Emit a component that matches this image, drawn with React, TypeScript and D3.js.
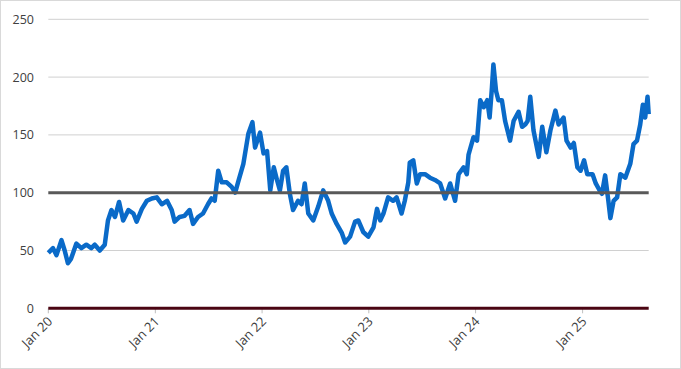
import React from "react";
import * as d3 from "d3";

const dates: string[] = [
  "2020-01-01","2020-01-17","2020-01-29","2020-02-15","2020-02-26","2020-03-08","2020-03-19","2020-04-06","2020-04-23","2020-05-10",
  "2020-05-27","2020-06-08","2020-06-25","2020-07-12","2020-07-23","2020-08-04","2020-08-16","2020-08-30","2020-09-13","2020-10-01",
  "2020-10-18","2020-10-29","2020-11-16","2020-12-03","2020-12-20","2021-01-06","2021-01-23","2021-02-10","2021-02-26","2021-03-08",
  "2021-03-25","2021-04-11","2021-04-28","2021-05-10","2021-05-27","2021-06-13","2021-06-30","2021-07-12","2021-07-23","2021-08-04",
  "2021-08-16","2021-09-02","2021-09-19","2021-10-01","2021-10-12","2021-10-29","2021-11-15","2021-11-29","2021-12-08","2021-12-25",
  "2022-01-06","2022-01-18","2022-01-29","2022-02-10","2022-02-21","2022-03-03","2022-03-14","2022-03-25","2022-04-06","2022-04-17",
  "2022-05-04","2022-05-16","2022-05-27","2022-06-08","2022-06-25","2022-07-12","2022-07-29","2022-08-15","2022-08-27","2022-09-13",
  "2022-10-01","2022-10-12","2022-10-29","2022-11-15","2022-11-26","2022-12-13","2022-12-30","2023-01-17","2023-01-29","2023-02-09",
  "2023-02-20","2023-03-08","2023-03-25","2023-04-06","2023-04-23","2023-05-04","2023-05-16","2023-05-21","2023-06-02","2023-06-14",
  "2023-06-25","2023-07-12","2023-07-29","2023-08-15","2023-09-02","2023-09-19","2023-10-06","2023-10-23","2023-11-04","2023-11-21",
  "2023-12-02","2023-12-08","2023-12-25","2024-01-06","2024-01-17","2024-01-29","2024-02-10","2024-02-18","2024-02-26","2024-03-02",
  "2024-03-11","2024-03-19","2024-03-31","2024-04-11","2024-04-28","2024-05-10","2024-05-27","2024-06-08","2024-06-19","2024-06-27",
  "2024-07-06","2024-07-17","2024-08-04","2024-08-16","2024-08-30","2024-09-13","2024-09-30","2024-10-11","2024-10-28","2024-11-07",
  "2024-11-21","2024-12-02","2024-12-14","2024-12-25","2025-01-06","2025-01-17","2025-02-04","2025-02-15","2025-02-26","2025-03-08",
  "2025-03-19","2025-03-30","2025-04-06","2025-04-17","2025-04-29","2025-05-10","2025-05-27","2025-06-13","2025-06-24","2025-07-06",
  "2025-07-17","2025-07-26","2025-08-03","2025-08-11","2025-08-15"
];

const values: number[] = [
  48,52,46,59,50,39,43,56,52,55,
  52,55,50,55,76,85,79,92,76,85,
  82,75,86,93,95,96,90,93,85,75,
  79,80,85,73,79,82,90,95,93,119,
  109,109,105,100,110,125,151,161,139,152,
  134,136,102,122,111,102,119,122,99,85,
  93,90,108,82,76,88,102,93,82,73,
  65,57,62,75,76,66,62,70,86,76,
  82,96,93,96,82,93,109,126,128,108,
  116,116,113,111,108,95,108,93,116,122,
  116,133,148,145,180,174,180,165,191,211,
  188,180,180,162,145,162,170,157,159,162,
  183,154,131,157,135,154,171,159,165,145,
  139,143,122,119,128,116,116,108,103,99,
  115,93,78,93,96,116,113,125,142,145,
  159,176,165,183,168
];

const yTicks: number[] = [0, 50, 100, 150, 200, 250];
const xTickLabels: string[] = ["Jan 20", "Jan 21", "Jan 22", "Jan 23", "Jan 24", "Jan 25"];
const xTickDates: string[] = ["2020-01-01", "2021-01-01", "2022-01-01", "2023-01-01", "2024-01-01", "2025-01-01"];
const refLevel = 100;

const W = 681;
const H = 369;
const left = 48.3;
const right = 648.7;
const top = 19.3;
const bottom = 308.3;

export default function App() {
  const parse = d3.timeParse("%Y-%m-%d");
  const pts = dates.map((d, i) => ({ date: parse(d) as Date, v: values[i] }));
  const x = d3
    .scaleTime()
    .domain([parse("2020-01-01") as Date, parse("2025-08-15") as Date])
    .range([left, right]);
  const y = d3.scaleLinear().domain([0, 250]).range([bottom, top]);
  const line = d3
    .line<{ date: Date; v: number }>()
    .x((d) => x(d.date))
    .y((d) => y(d.v));

  const font = "'Open Sans', 'Liberation Sans', sans-serif";

  return (
    <svg
      width={W}
      height={H}
      style={{ position: "absolute", left: 0, top: 0, background: "#fff" }}
    >
      <rect x={0.5} y={0.5} width={W - 1} height={H - 1} fill="#fff" stroke="#d9d9d9" />
      {yTicks
        .filter((t) => t !== 0 && t !== refLevel)
        .map((t) => (
          <line key={t} x1={left} x2={right} y1={y(t)} y2={y(t)} stroke="#d0d0d0" strokeWidth={1} />
        ))}
      {yTicks.map((t) => (
        <text
          key={"l" + t}
          x={34}
          y={y(t)}
          dy="0.36em"
          textAnchor="end"
          fontFamily={font}
          fontSize={12.5}
          fill="#404040"
        >
          {t}
        </text>
      ))}
      {xTickDates.map((d, i) => {
        const xx = x(parse(d) as Date);
        return (
          <g key={d}>
            <line x1={xx} x2={xx} y1={bottom} y2={bottom + 5} stroke="#bfbfbf" strokeWidth={1} />
            <text
              transform={`translate(${xx + 5},${bottom + 14}) rotate(-45)`}
              textAnchor="end"
              fontFamily={font}
              fontSize={13}
              fill="#404040"
            >
              {xTickLabels[i]}
            </text>
          </g>
        );
      })}
      <path d={line(pts) || ""} fill="none" stroke="#0a6ac8" strokeWidth={4.5} strokeLinejoin="round" />
      <line x1={left} x2={right} y1={y(refLevel)} y2={y(refLevel)} stroke="#595959" strokeWidth={3} />
      <line x1={left} x2={right} y1={y(0)} y2={y(0)} stroke="#4a0512" strokeWidth={3} />
    </svg>
  );
}
